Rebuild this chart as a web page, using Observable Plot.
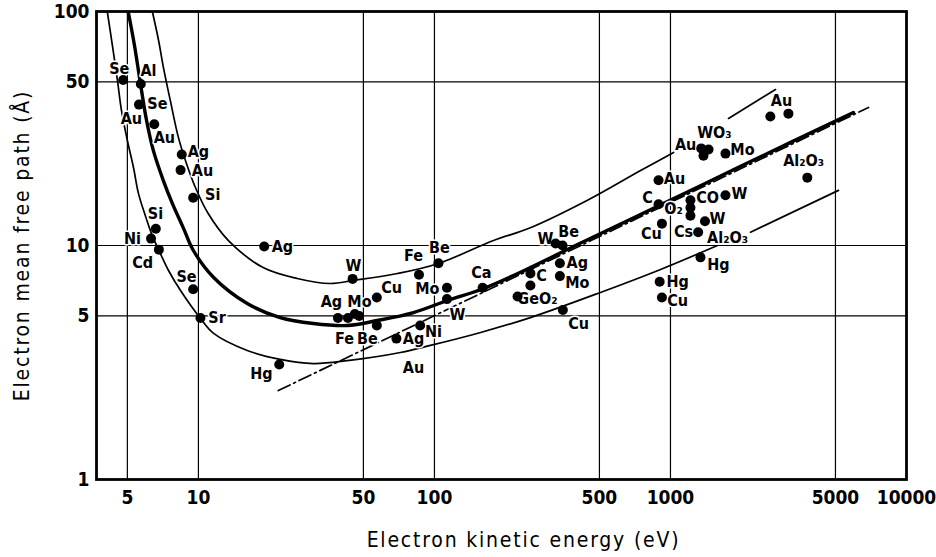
<!DOCTYPE html>
<html>
<head>
<meta charset="utf-8">
<script src="https://cdn.jsdelivr.net/npm/d3@7"></script>
<script src="https://cdn.jsdelivr.net/npm/@observablehq/plot@0.6"></script>
<style>
  html, body { margin: 0; padding: 0; background: white; }
</style>
</head>
<body>
<div id="chart"></div>
<script>
// ---- Data (energy in eV, mean free path in Å) ----
const xTicks = [5, 10, 50, 100, 500, 1000, 5000, 10000];
const xGrid = [5, 10, 50, 100, 500, 1000, 5000];
const yTicks = [1, 5, 10, 50, 100];
const yGrid = [5, 10, 50];

// upper thin curve
const upperCurve = [[6.38,100],[6.78,75.2],[7.11,57.6],[7.6,41.7],[8.23,28.9],[8.81,23.1],[9.71,17.7],[11.0,13.7],[13.4,10.5],[18.8,8.05],[26.2,7.23],[36.2,6.88],[45.4,7.09],[69.7,7.59],[104,8.38],[178,10.5],[255,11.9],[445,15.6],[747,20.9],[1031,25.0]];
const upperTail = [[1762,34.9],[2786,46.4]];

// thick middle curve
const thickCurve = [[5.04,100],[5.36,71.6],[5.68,49.2],[6.03,34.2],[6.44,25.5],[7.11,18.9],[7.76,15.1],[8.63,11.9],[9.52,9.52],[11.6,7.3],[16.1,5.65],[22.2,4.92],[30.7,4.64],[42.7,4.55],[57.3,4.78],[81.5,5.17],[113.5,5.82],[161.5,6.55],[255,8.05],[388,9.9],[971,15.4],[1982,21.8],[5957,37.0]];

// lower thin curve
const lowerCurve = [[4.11,100],[4.32,71.6],[4.54,50.7],[4.72,37.8],[5.0,28.1],[5.31,21.5],[5.57,16.7],[5.96,13.4],[6.38,11.0],[6.78,9.6],[7.47,7.82],[8.4,6.42],[10.2,4.88],[11.6,4.21],[16.1,3.56],[22.2,3.26],[30.7,3.13],[42.7,3.22],[71.8,3.49],[96.1,3.74],[157,4.25],[255,4.92],[505,6.3],[908,7.9],[1581,10.0]];
const lowerTail = [[2183,11.4],[5150,17.2]];

// dash-dot straight line
const dashLine = [[21.8,2.40],[6905,38.9]];

// measured points
const points = [[4.8,51],[5.7,49],[5.6,40],[6.5,33],[8.5,24.5],[8.4,21],[9.5,16],[6.6,11.8],[6.3,10.7],[6.8,9.6],[9.5,6.5],[10.2,4.9],[19,9.9],[22,3.1],[45,7.2],[86,7.5],[104,8.4],[57,6.0],[113,6.6],[39,4.9],[43,4.9],[46,5.1],[48,5.0],[57,4.55],[69,4.0],[87,4.55],[113,5.9],[160,6.6],[225,6.05],[255,7.6],[255,6.75],[326,10.2],[349,10.0],[340,8.4],[340,7.4],[350,5.3],[920,12.4],[900,7.0],[920,6.0],[1340,8.9],[1310,11.4],[1400,12.7],[2650,35.6],[3160,36.6],[1350,26],[1450,25.7],[1380,24.2],[1710,24.7],[3800,19.5],[890,19],[890,15],[1215,15.6],[1215,14.5],[1215,13.4],[1710,16.4]];

// element labels
const labels = [["Se",4.62,57.1],["Al",6.14,56],["Se",6.7,40.1],["Au",5.2,34.9],["Au",7.17,28.9],["Ag",10,25.2],["Au",10.4,20.9],["Si",11.5,16.4],["Si",6.58,13.6],["Ni",5.25,10.7],["Cd",5.8,8.46],["Se",8.9,7.37],["Sr",12.0,4.92],["Ag",22.7,9.9],["Hg",18.5,2.84],["W",45.4,8.22],["Fe",81.5,9.06],["Be",105,9.8],["Cu",65.8,6.62],["Mo",93.3,6.55],["Ag",36.6,5.76],["Mo",48.1,5.76],["Fe",41.6,4.0],["Be",52,4.0],["Ag",81.5,4.0],["Ni",99,4.29],["W",125,5.07],["Au",81.5,3.01],["Ca",158,7.67],["C",284,7.44],["GeO₂",273,5.94],["W",295,10.7],["Be",370,11.4],["Ag",403,8.46],["Mo",403,6.95],["Cu",408,4.64],["Cu",830,11.2],["Hg",1072,7.02],["Cu",1072,5.82],["Hg",1596,8.29],["Cs",1135,11.4],["W",1581,13.0],["Au",2953,41.7],["WO₃",1535,30.4],["Au",1159,27],["Mo",2018,25.7],["Al₂O₃",3664,23.1],["Au",1040,19.3],["C",800,15.9],["O₂",1031,14.4],["CO",1436,15.9],["W",1959,16.7],["Al₂O₃",1745,10.8]];

const xTitle = "Electron kinetic energy (eV)";
const yTitle = "Electron mean free path (Å)";

const FONT = "'DejaVu Sans Condensed', 'Liberation Sans Narrow', 'DejaVu Sans', sans-serif";
const X = d => d[0], Y = d => d[1];

const chart = Plot.plot({
  width: 936,
  height: 557,
  marginLeft: 96,
  marginRight: 30,
  marginTop: 11,
  marginBottom: 78,
  style: {fontFamily: FONT, background: "white", color: "black"},
  x: {type: "log", domain: [3.7, 10000], axis: null},
  y: {type: "log", domain: [1, 100], axis: null},
  marks: [
    Plot.ruleX(xGrid, {stroke: "black", strokeWidth: 1.2}),
    Plot.ruleY(yGrid, {stroke: "black", strokeWidth: 1.2}),
    Plot.line(upperCurve, {x: X, y: Y, curve: "catmull-rom", stroke: "black", strokeWidth: 1.7, clip: true}),
    Plot.line(upperTail, {x: X, y: Y, stroke: "black", strokeWidth: 1.7}),
    Plot.line(lowerCurve, {x: X, y: Y, curve: "catmull-rom", stroke: "black", strokeWidth: 1.7, clip: true}),
    Plot.line(lowerTail, {x: X, y: Y, stroke: "black", strokeWidth: 1.7}),
    Plot.line(thickCurve, {x: X, y: Y, curve: "catmull-rom", stroke: "black", strokeWidth: 3.4, clip: true}),
    Plot.line(dashLine, {x: X, y: Y, stroke: "black", strokeWidth: 1.7, strokeDasharray: "13,4,2,4"}),
    Plot.text(labels, {x: d => d[1], y: d => d[2], text: d => d[0], fontSize: 16, fontWeight: "bold",
      fill: "black", stroke: "white", strokeWidth: 3, paintOrder: "stroke"}),
    Plot.dot(points, {x: X, y: Y, r: 5, fill: "black", stroke: "none"}),
    Plot.frame({stroke: "black", strokeWidth: 2.8}),
    Plot.text(xTicks, {x: d => d, frameAnchor: "bottom", dy: 18, lineAnchor: "middle", text: d => String(d),
      fontSize: 19, fontWeight: "bold"}),
    Plot.text(yTicks, {y: d => d, frameAnchor: "left", dx: -7, textAnchor: "end", lineAnchor: "middle", text: d => String(d),
      fontSize: 19, fontWeight: "bold"}),
    Plot.text([xTitle], {frameAnchor: "bottom", dy: 61, dx: 22, lineAnchor: "middle", textAnchor: "middle",
      fontSize: 21, text: d => d, style: "letter-spacing: 1.8px"}),
    Plot.text([yTitle], {frameAnchor: "left", dx: -74, rotate: -90, lineAnchor: "middle", textAnchor: "middle",
      fontSize: 21, text: d => d})
  ]
});
// wide letter spacing on the axis titles, as in the original
chart.querySelectorAll("text").forEach(t => {
  if (t.textContent === xTitle || t.textContent === yTitle) t.style.letterSpacing = "1.8px";
});
document.getElementById("chart").appendChild(chart);
</script>
</body>
</html>
